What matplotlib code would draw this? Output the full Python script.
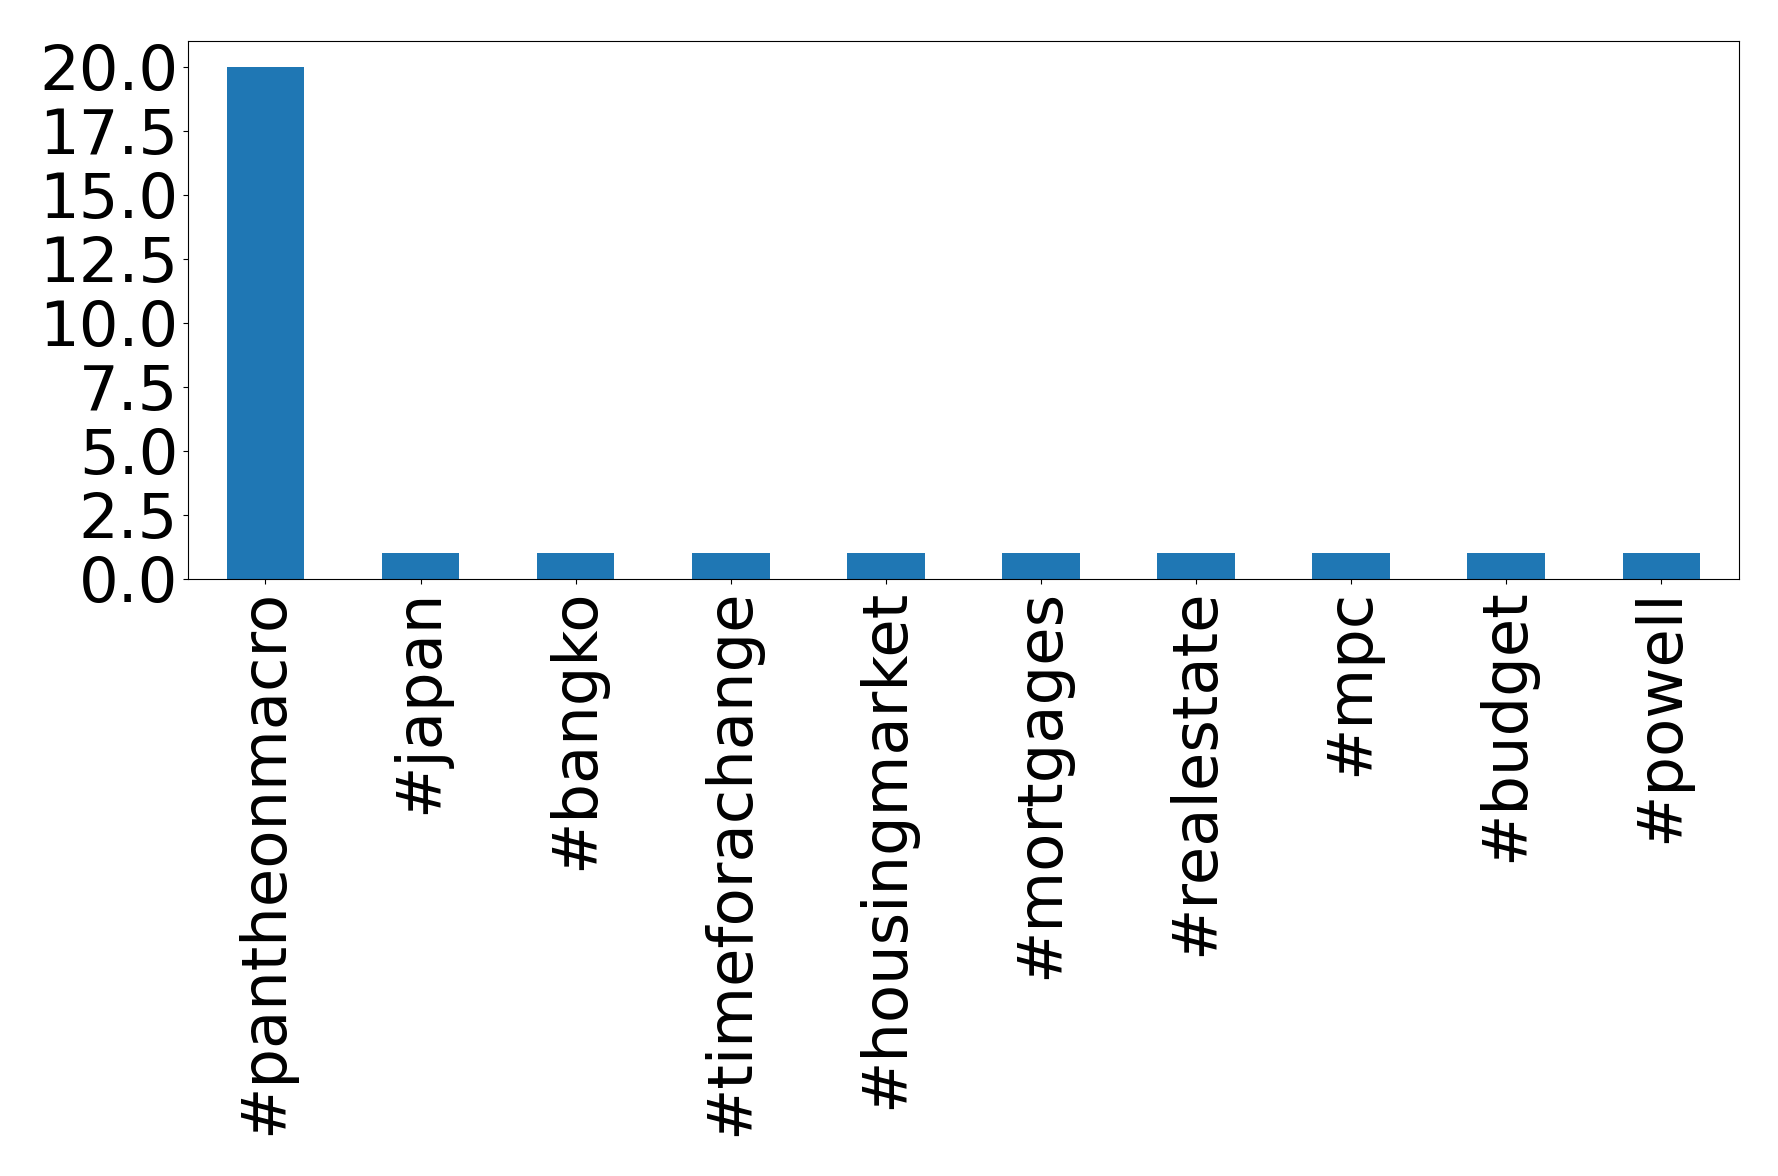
import matplotlib
matplotlib.use("Agg")
import matplotlib.pyplot as plt
import matplotlib.ticker as mticker
import pandas as pd

tags = ["#pantheonmacro", "#japan", "#bangko", "#timeforachange", "#housingmarket",
        "#mortgages", "#realestate", "#mpc", "#budget", "#powell"]
counts = [20, 1, 1, 1, 1, 1, 1, 1, 1, 1]

s = pd.Series(counts, index=tags)

fig = plt.figure(figsize=(17.78, 11.76), dpi=100)
ax = fig.add_subplot(111)
s.plot(kind="bar", ax=ax, color="#1f77b4")
ax.tick_params(axis="both", labelsize=45)
ax.set_ylim(0, 21)
ax.yaxis.set_major_locator(mticker.MultipleLocator(2.5))
ax.yaxis.set_major_formatter(mticker.FormatStrFormatter("%.1f"))
fig.subplots_adjust(left=0.1057, right=0.978, top=0.965, bottom=0.5077)

fig.savefig("out.png", dpi=100)
